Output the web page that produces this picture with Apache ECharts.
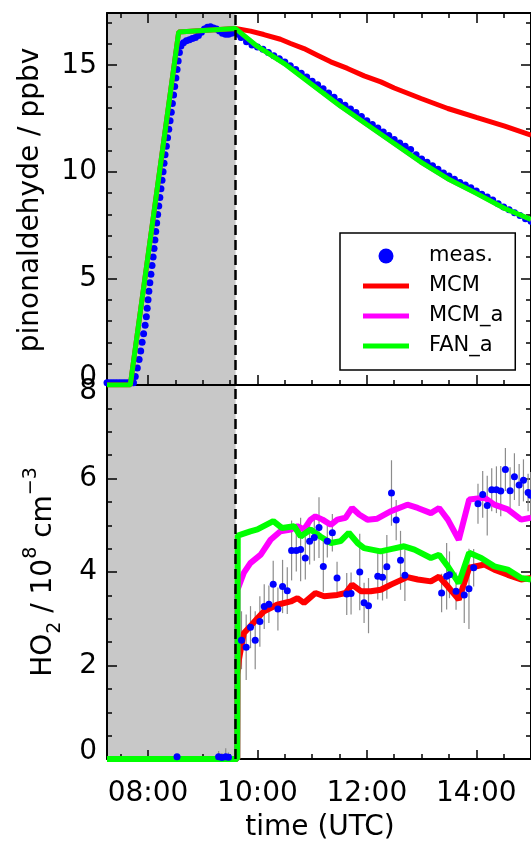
<!DOCTYPE html>
<html><head><meta charset="utf-8">
<script src="https://cdn.jsdelivr.net/npm/echarts@6/dist/echarts.min.js"></script>
<style>html,body{margin:0;padding:0;background:#fff}#c{width:531px;height:846px}</style>
</head><body><div id="c"></div>
<script>
// ---------- axis ticks / labels ----------
const xTickHours = [8, 10, 12, 14];
const xTickLabels = ['08:00', '10:00', '12:00', '14:00'];
const xMinorHours = [7.5, 8.5, 9, 9.5, 10.5, 11, 11.5, 12.5, 13, 13.5, 14.5];
const topYTicks = [0, 5, 10, 15];
const topYMinor = [1, 2, 3, 4, 6, 7, 8, 9, 11, 12, 13, 14, 16, 17];
const botYTicks = [0, 2, 4, 6, 8];
const botYMinor = [0.5, 1, 1.5, 2.5, 3, 3.5, 4.5, 5, 5.5, 6.5, 7, 7.5];
const shadeStart = 7.25, shadeEnd = 9.6;   // grey period
const dashedAt = 9.6;

// ---------- top panel: pinonaldehyde (ppbv) ----------
const pinMeasT = [7.25,7.3,7.35,7.4,7.45,7.5,7.55,7.6,7.65,7.7,
  7.734,7.767,7.804,7.837,7.866,7.892,7.919,7.947,7.969,7.985,8.0,8.015,8.033,8.053,8.073,8.093,8.11,8.126,8.141,8.158,8.176,8.196,8.216,8.236,8.256,8.275,8.293,8.311,8.335,8.357,8.379,8.403,8.425,8.445,8.467,8.487,8.509,8.531,8.551,8.573,
  8.601,8.647,8.701,8.756,8.811,8.866,8.921,8.976,9.031,9.086,9.141,9.196,9.251,9.306,9.361,9.416,9.471,9.526,9.581,
  9.65,9.7,9.8,9.9,10.0,10.1,10.2,10.3,10.4,10.5,10.6,10.7,10.8,10.9,11.0,11.1,11.2,11.3,11.4,11.5,11.6,11.7,11.8,11.9,12.0,
  12.1,12.2,12.3,12.4,12.5,12.6,12.7,12.8,12.9,13.0,13.1,13.2,13.3,13.4,13.5,13.6,13.7,13.8,13.9,14.0,14.1,14.2,14.3,14.4,14.5,14.6,14.7,14.8,14.9,15.0];
const pinMeasV = [0.1,0.1,0.1,0.1,0.1,0.1,0.1,0.1,0.1,0.1,
  0.1,0.4,0.8,1.2,1.6,2.0,2.4,2.8,3.2,3.6,4.0,4.4,4.8,5.2,5.6,6.0,6.4,6.8,7.2,7.6,8.0,8.4,8.8,9.2,9.6,10.0,10.4,10.8,11.2,11.6,12.0,12.4,12.8,13.2,13.6,14.0,14.4,14.8,15.2,15.6,
  15.9,16.05,16.15,16.2,16.25,16.3,16.4,16.55,16.7,16.78,16.8,16.75,16.7,16.6,16.5,16.45,16.45,16.5,16.55,
  16.45,16.3,16.1,15.95,15.85,15.75,15.6,15.45,15.3,15.15,14.98,14.8,14.62,14.45,14.25,14.08,13.9,13.7,13.5,13.3,13.12,12.95,12.78,12.6,12.4,
  12.22,12.05,11.87,11.7,11.52,11.35,11.2,11.05,10.8,10.6,10.45,10.28,10.12,9.95,9.8,9.65,9.5,9.38,9.25,9.1,8.95,8.82,8.68,8.5,8.35,8.22,8.08,7.95,7.8,7.68];
const pinMcmT = [7.25,7.676,8.56,9.6,9.874,10.117,10.42,10.606,10.85,11.095,11.34,11.645,11.95,12.255,12.5,12.99,13.48,14.0,14.52,15.0];
const pinMcmV = [0,0,16.56,16.72,16.6,16.44,16.22,16.02,15.78,15.47,15.16,14.85,14.5,14.22,13.93,13.44,12.97,12.55,12.14,11.72];
const pinModT = [7.25,7.676,8.56,9.6,10.0,10.49,10.97,11.52,12.0,12.5,12.98,13.47,14.0,14.52,15.0];
const pinMcmaV = [0,0,16.56,16.72,15.86,15.07,14.13,13.06,12.2,11.31,10.45,9.67,8.98,8.27,7.76];
const pinFanV  = [0,0,16.56,16.72,15.88,15.08,14.14,13.08,12.22,11.33,10.47,9.69,8.99,8.28,7.77];

// ---------- bottom panel: HO2 (1e8 cm-3) ----------
const hoT = [8.53,9.29,9.35,9.42,9.47,
  9.708,9.794,9.873,9.959,10.044,10.124,10.209,10.288,10.374,10.459,10.545,10.624,10.71,10.789,10.875,10.954,11.039,11.125,11.204,11.277,11.369,11.455,11.632,11.711,11.87,11.949,12.03,12.199,
  12.286,12.365,12.45,12.536,12.615,12.695,13.366,13.458,13.51,13.63,13.78,13.866,13.952,14.031,14.117,14.2,14.282,14.368,14.447,14.532,14.618,14.697,14.783,14.862,14.947,14.995];
const hoV = [0.05,0.05,0.03,0.05,0.04,
  2.54,2.39,2.82,2.54,2.94,3.26,3.31,3.74,3.21,3.69,3.60,4.46,4.46,4.48,4.30,4.66,4.74,4.95,4.12,4.66,4.84,3.87,3.53,3.54,4.00,3.34,3.28,3.91,
  3.89,4.11,5.69,5.11,4.25,3.93,3.55,3.91,3.94,3.59,3.51,3.64,4.09,5.46,5.66,5.42,5.76,5.76,5.73,6.19,5.74,6.04,5.86,5.96,5.70,5.64];
const hoErr = [0.05,0.12,0.1,0.18,0.1,
  0.62,0.7,0.45,0.62,0.54,0.48,0.4,0.5,0.46,0.57,0.5,0.64,0.45,0.68,0.46,0.5,0.5,0.65,0.54,0.35,0.4,0.35,0.45,0.45,0.82,0.43,0.59,0.5,
  0.5,0.68,0.7,0.43,0.63,0.55,0.41,0.71,0.5,0.4,0.6,0.86,0.4,0.43,0.5,0.64,0.46,0.5,0.54,0.46,0.5,0.5,0.45,0.45,0.4,0.5];
const hoMcmT = [7.25,9.63,9.635,9.66,9.75,9.87,10.0,10.12,10.36,10.61,10.73,10.85,11.06,11.22,11.46,11.61,11.73,11.89,12.07,12.255,12.44,12.74,12.93,13.17,13.32,13.48,13.68,13.87,14.15,14.33,14.575,14.82,15.0];
const hoMcmV = [0,0,1.8,2.12,2.69,2.84,3.01,3.16,3.3,3.37,3.44,3.34,3.55,3.48,3.51,3.55,3.73,3.59,3.59,3.62,3.73,3.89,3.84,3.8,3.9,3.69,3.41,4.09,4.16,4.05,3.94,3.84,3.87];
const hoMcmaT = [7.25,9.63,9.635,9.75,9.87,10.06,10.24,10.42,10.61,10.73,10.85,10.97,11.06,11.19,11.34,11.46,11.61,11.73,11.86,12.01,12.19,12.44,12.74,12.93,13.17,13.32,13.48,13.68,13.87,14.15,14.33,14.575,14.82,15.0];
const hoMcmaV = [0,0,3.62,3.98,4.19,4.37,4.69,4.87,4.91,4.98,4.91,5.12,5.19,5.12,5.01,5.12,5.16,5.37,5.23,5.12,5.14,5.3,5.44,5.37,5.26,5.37,5.12,4.69,5.55,5.59,5.44,5.34,5.12,5.16];
const hoFanT = [7.25,9.63,9.64,9.87,10.0,10.29,10.45,10.67,10.79,10.97,11.15,11.34,11.52,11.67,11.83,11.95,12.25,12.44,12.68,12.87,13.17,13.32,13.48,13.68,13.87,14.09,14.33,14.575,14.82,15.0];
const hoFanV = [0,0,4.78,4.87,4.91,5.09,4.94,4.98,4.76,4.91,4.76,4.62,4.66,4.84,4.62,4.51,4.44,4.49,4.55,4.48,4.3,4.37,4.12,3.76,4.41,4.3,4.12,4.05,3.87,3.84];

// ---------- build chart ----------
const FONT = 'DejaVu Sans';
const X_MIN = 7.25, X_MAX = 15.0;
const pair = (t, v) => t.map((x, i) => [x, v[i]]);
const C = { meas: '#0000ff', mcm: '#ff0000', mcma: '#ff00ff', fan: '#00ff00', shade: '#c8c8c8' };
const LINE_ICON = 'path://M0,0L46,0L46,5L0,5Z';

function xAx(grid, pos, ticks, len, showLine, labels) {
  return {
    type: 'value', gridIndex: grid, position: pos, min: X_MIN, max: X_MAX,
    axisLine: { show: showLine, onZero: false, lineStyle: { color: '#000', width: 2 } },
    axisTick: { show: true, inside: true, length: len, customValues: ticks, lineStyle: { color: '#000', width: 1.5 } },
    axisLabel: labels ? {
      show: true, customValues: xTickHours, margin: 21, color: '#000', fontFamily: FONT, fontSize: 28,
      formatter: v => { const i = xTickHours.indexOf(v); return i >= 0 ? xTickLabels[i] : ''; }
    } : { show: false },
    splitLine: { show: false }
  };
}
function yAx(grid, pos, min, max, ticks, len, showLine, labels, fmt) {
  return {
    type: 'value', gridIndex: grid, position: pos, min: min, max: max,
    axisLine: { show: showLine, onZero: false, lineStyle: { color: '#000', width: 2 } },
    axisTick: { show: true, inside: true, length: len, customValues: ticks, lineStyle: { color: '#000', width: 1.5 } },
    axisLabel: labels ? {
      show: true, customValues: labels, margin: 10, color: '#000', fontFamily: FONT, fontSize: 28,
      formatter: fmt,
      rich: {
        lo: { fontFamily: FONT, fontSize: 28, color: '#000', padding: [0, 0, 14, 0] },
        hi: { fontFamily: FONT, fontSize: 28, color: '#000', padding: [14, 0, 0, 0] }
      }
    } : { show: false },
    splitLine: { show: false }
  };
}
const TOP_MAX = 17.45, BOT_MAX = 8;

const option = {
  animation: false,
  backgroundColor: '#fff',
  grid: [
    { left: 107, right: 0, top: 13, height: 372 },
    { left: 107, right: 0, top: 385, height: 374 }
  ],
  xAxis: [
    xAx(0, 'bottom', xTickHours, 10, true, false),
    xAx(0, 'bottom', xMinorHours, 5, false, false),
    xAx(0, 'top', xTickHours, 10, true, false),
    xAx(0, 'top', xMinorHours, 5, false, false),
    xAx(1, 'bottom', xTickHours, 9, true, true),
    xAx(1, 'bottom', xMinorHours, 5, false, false)
  ],
  yAxis: [
    yAx(0, 'left', 0, TOP_MAX, topYTicks, 10, true, topYTicks, v => v === 0 ? '{lo|0}' : String(v)),
    yAx(0, 'left', 0, TOP_MAX, topYMinor, 5, false, null),
    yAx(0, 'right', 0, TOP_MAX, topYTicks, 10, true, null),
    yAx(0, 'right', 0, TOP_MAX, topYMinor, 5, false, null),
    yAx(1, 'left', 0, BOT_MAX, botYTicks, 10, true, botYTicks, v => v === 0 ? '{lo|0}' : (v === 8 ? '{hi|8}' : String(v))),
    yAx(1, 'left', 0, BOT_MAX, botYMinor, 5, false, null),
    yAx(1, 'right', 0, BOT_MAX, botYTicks, 10, true, null),
    yAx(1, 'right', 0, BOT_MAX, botYMinor, 5, false, null)
  ],
  legend: {
    data: [
      { name: 'meas.', icon: 'circle' },
      { name: 'MCM', icon: LINE_ICON }, { name: 'MCM_a', icon: LINE_ICON }, { name: 'FAN_a', icon: LINE_ICON }
    ],
    symbolKeepAspect: true,
    orient: 'vertical', left: 340, top: 233,
    itemWidth: 46, itemHeight: 15, itemGap: 6,
    padding: [11, 12, 12, 23],
    borderColor: '#000', borderWidth: 1.5, borderRadius: 0, backgroundColor: '#fff',
    selectedMode: false,
    itemStyle: { opacity: 1 },
    textStyle: { fontFamily: FONT, fontSize: 21, color: '#000', lineHeight: 24, padding: [0, 0, 0, 15] }
  },
  graphic: [
    { type: 'text', x: 31, y: 200, rotation: Math.PI / 2,
      style: { text: 'pinonaldehyde / ppbv', fontFamily: FONT, fontSize: 28, fill: '#000', align: 'center', verticalAlign: 'middle' } },
    { type: 'text', x: 44, y: 572, rotation: Math.PI / 2,
      style: { text: 'HO{sub|2} / 10{sup|8} cm{sup|\u22123}', fontFamily: FONT, fontSize: 28, fill: '#000', align: 'center', verticalAlign: 'middle',
        rich: {
          sub: { fontFamily: FONT, fontSize: 19, fill: '#000', padding: [23, 0, 0, 0] },
          sup: { fontFamily: FONT, fontSize: 19, fill: '#000', padding: [0, 0, 25, 0] }
        } } },
    { type: 'text', x: 320, y: 828,
      style: { text: 'time (UTC)', fontFamily: FONT, fontSize: 28, fill: '#000', align: 'center', verticalAlign: 'middle' } }
  ],
  series: [
    // ---- top panel ----
    { name: 'meas.', type: 'scatter', xAxisIndex: 0, yAxisIndex: 0, data: pair(pinMeasT, pinMeasV),
      symbol: 'circle', symbolSize: 7, itemStyle: { color: C.meas, opacity: 1 }, z: 2,
      markArea: { silent: true, itemStyle: { color: C.shade, opacity: 1 }, data: [[{ xAxis: shadeStart }, { xAxis: shadeEnd }]], z: 0 },
      markLine: { silent: true, symbol: 'none', label: { show: false },
        lineStyle: { color: '#000', width: 2.5, type: [10, 5], opacity: 1 }, data: [{ xAxis: dashedAt }] } },
    { name: 'MCM', type: 'line', xAxisIndex: 0, yAxisIndex: 0, data: pair(pinMcmT, pinMcmV), symbol: 'none',
      lineStyle: { color: C.mcm, width: 5 }, itemStyle: { color: C.mcm }, z: 3 },
    { name: 'MCM_a', type: 'line', xAxisIndex: 0, yAxisIndex: 0, data: pair(pinModT, pinMcmaV), symbol: 'none',
      lineStyle: { color: C.mcma, width: 4 }, itemStyle: { color: C.mcma }, z: 3 },
    { name: 'FAN_a', type: 'line', xAxisIndex: 0, yAxisIndex: 0, data: pair(pinModT, pinFanV), symbol: 'none',
      lineStyle: { color: C.fan, width: 5 }, itemStyle: { color: C.fan }, z: 3 },
    // ---- bottom panel ----
    { name: 'err', type: 'custom', xAxisIndex: 4, yAxisIndex: 4, clip: true,
      data: hoT.map((t, i) => [t, hoV[i] - hoErr[i], hoV[i] + hoErr[i]]),
      encode: { x: 0, y: [1, 2] },
      renderItem: (params, api) => {
        const a = api.coord([api.value(0), api.value(1)]);
        const b = api.coord([api.value(0), api.value(2)]);
        return { type: 'line', shape: { x1: a[0], y1: a[1], x2: b[0], y2: b[1] }, style: { stroke: '#8c8c8c', lineWidth: 1.2 } };
      },
      markArea: { silent: true, itemStyle: { color: C.shade, opacity: 1 }, data: [[{ xAxis: shadeStart }, { xAxis: shadeEnd }]], z: 0 },
      markLine: { silent: true, symbol: 'none', label: { show: false },
        lineStyle: { color: '#000', width: 2.5, type: [10, 5], opacity: 1 }, data: [{ xAxis: dashedAt }] },
      z: 2 },
    { name: 'MCM', type: 'line', xAxisIndex: 4, yAxisIndex: 4, data: pair(hoMcmT, hoMcmV), symbol: 'none',
      lineStyle: { color: C.mcm, width: 6 }, itemStyle: { color: C.mcm }, z: 3 },
    { name: 'MCM_a', type: 'line', xAxisIndex: 4, yAxisIndex: 4, data: pair(hoMcmaT, hoMcmaV), symbol: 'none',
      lineStyle: { color: C.mcma, width: 6 }, itemStyle: { color: C.mcma }, z: 3 },
    { name: 'FAN_a', type: 'line', xAxisIndex: 4, yAxisIndex: 4, data: pair(hoFanT, hoFanV), symbol: 'none',
      lineStyle: { color: C.fan, width: 6 }, itemStyle: { color: C.fan }, z: 3 },
    { name: 'meas.', type: 'scatter', xAxisIndex: 4, yAxisIndex: 4, data: pair(hoT, hoV),
      symbol: 'circle', symbolSize: 7, itemStyle: { color: C.meas, opacity: 1 }, z: 4 }
  ]
};
const chart = echarts.init(document.getElementById('c'), null, { renderer: 'canvas' });
chart.setOption(option);
</script>
</body></html>
